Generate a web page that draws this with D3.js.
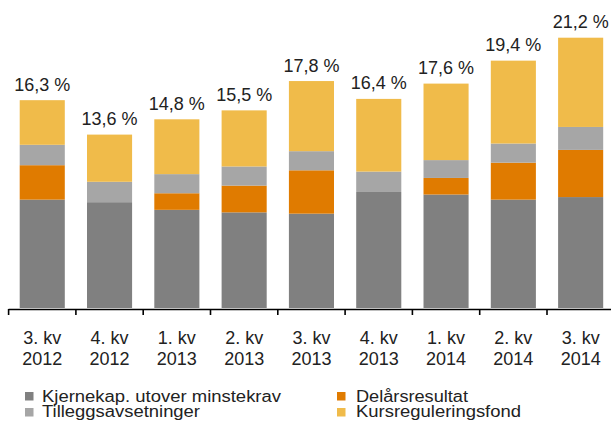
<!DOCTYPE html>
<html>
<head>
<meta charset="utf-8">
<script src="https://cdn.jsdelivr.net/npm/d3@7"></script>
<style>
  body { margin: 0; background: #fff; }
  svg { display: block; font-family: "Liberation Sans", Arial, sans-serif; }
</style>
</head>
<body>
<div id="chart"></div>
<script>
// Quarters (two-line tick labels)
const quarters = ["3. kv|2012", "4. kv|2012", "1. kv|2013", "2. kv|2013", "3. kv|2013",
                  "4. kv|2013", "1. kv|2014", "2. kv|2014", "3. kv|2014"];

// Total capital ratio shown above each bar
const totals = [16.3, 13.6, 14.8, 15.5, 17.8, 16.4, 17.6, 19.4, 21.2];

// Stacked components, bottom to top
const kjernekap = [8.5, 8.3, 7.7, 7.5, 7.4, 9.1, 8.9, 8.5, 8.7];
const delars    = [2.7, 0.0, 1.3, 2.1, 3.4, 0.0, 1.3, 2.9, 3.7];
const tillegg   = [1.6, 1.6, 1.5, 1.5, 1.5, 1.6, 1.4, 1.5, 1.8];
const kursreg   = [3.5, 3.7, 4.3, 4.4, 5.5, 5.7, 6.0, 6.5, 7.0];

const seriesNames  = ["Kjernekap. utover minstekrav", "Delårsresultat", "Tilleggsavsetninger", "Kursreguleringsfond"];
const seriesColors = ["#808080", "#E07B00", "#A6A6A6", "#F0BB4A"];
// stack order: dark gray, orange, light gray, yellow
const seriesValues = [kjernekap, delars, tillegg, kursreg];

const W = 611, H = 423;
const baseY = 308;

const svg = d3.select("#chart").append("svg")
    .attr("width", W)
    .attr("height", H);

// Band scale: ticks sit on band edges, step ~67.3
const x = d3.scaleBand()
    .domain(quarters)
    .range([8.6, 8.6 + 67.3 * quarters.length])
    .paddingInner(0.33)
    .paddingOuter(0.165);

const y = d3.scaleLinear()
    .domain([0, 24])
    .range([baseY, baseY - 24 * 12.75]);

// Build stacked data
const rows = quarters.map(function (q, i) {
    const r = { q: q };
    seriesNames.forEach(function (s, j) { r[s] = seriesValues[j][i]; });
    return r;
});
const stacked = d3.stack().keys(seriesNames)(rows);

svg.append("g")
    .selectAll("g")
    .data(stacked)
    .join("g")
    .attr("fill", function (d, i) { return seriesColors[i]; })
    .selectAll("rect")
    .data(function (d) { return d; })
    .join("rect")
    .attr("x", function (d) { return x(d.data.q); })
    .attr("width", x.bandwidth())
    .attr("y", function (d) { return y(d[1]); })
    .attr("height", function (d) { return y(d[0]) - y(d[1]); });

// Total labels above bars
svg.append("g")
    .selectAll("text")
    .data(quarters)
    .join("text")
    .attr("x", function (d) { return x(d) + x.bandwidth() / 2; })
    .attr("y", function (d, i) {
        const top = d3.sum(seriesValues, function (s) { return s[i]; });
        return y(top) - 9.5;
    })
    .attr("text-anchor", "middle")
    .style("font-size", "18px")
    .style("fill", "#222")
    .text(function (d, i) { return totals[i].toFixed(1).replace(".", ",") + " %"; });

// X axis line and ticks on band edges
const step = x.step();
const x0 = 8.6;
const axis = svg.append("g").attr("stroke", "#000");
axis.append("line")
    .attr("x1", x0).attr("x2", W)
    .attr("y1", baseY + 1.5).attr("y2", baseY + 1.5)
    .attr("stroke-width", 1.6);
axis.selectAll("line.tick")
    .data(d3.range(quarters.length + 1))
    .join("line")
    .attr("class", "tick")
    .attr("x1", function (i) { return x0 + i * step; })
    .attr("x2", function (i) { return x0 + i * step; })
    .attr("y1", baseY + 1)
    .attr("y2", baseY + 7)
    .attr("stroke-width", 1.6);

// Tick labels (two lines)
const lbl = svg.append("g")
    .selectAll("text")
    .data(quarters)
    .join("text")
    .attr("text-anchor", "middle")
    .style("font-size", "18px")
    .style("fill", "#222");
lbl.append("tspan")
    .attr("x", function (d) { return x(d) + x.bandwidth() / 2; })
    .attr("y", 344)
    .text(function (d) { return d.split("|")[0]; });
lbl.append("tspan")
    .attr("x", function (d) { return x(d) + x.bandwidth() / 2; })
    .attr("y", 365)
    .text(function (d) { return d.split("|")[1]; });

// Legend: two columns, two rows (text widths stretched to the reference)
const legendItems = [
    { name: seriesNames[0], color: seriesColors[0], sx: 25, tx: 42, row: 0, w: 239 },
    { name: seriesNames[2], color: seriesColors[2], sx: 25, tx: 42, row: 1, w: 158 },
    { name: seriesNames[1], color: seriesColors[1], sx: 337, tx: 356, row: 0, w: 112 },
    { name: seriesNames[3], color: seriesColors[3], sx: 337, tx: 356, row: 1, w: 165 }
];
const leg = svg.append("g")
    .selectAll("g")
    .data(legendItems)
    .join("g");
leg.append("rect")
    .attr("x", function (d) { return d.sx; })
    .attr("y", function (d) { return 392 + d.row * 16; })
    .attr("width", 8.5)
    .attr("height", 8.5)
    .attr("fill", function (d) { return d.color; });
leg.append("text")
    .attr("x", function (d) { return d.tx; })
    .attr("y", function (d) { return 401.5 + d.row * 15; })
    .attr("textLength", function (d) { return d.w; })
    .attr("lengthAdjust", "spacingAndGlyphs")
    .style("font-size", "16px")
    .style("fill", "#222")
    .text(function (d) { return d.name; });
</script>
</body>
</html>
